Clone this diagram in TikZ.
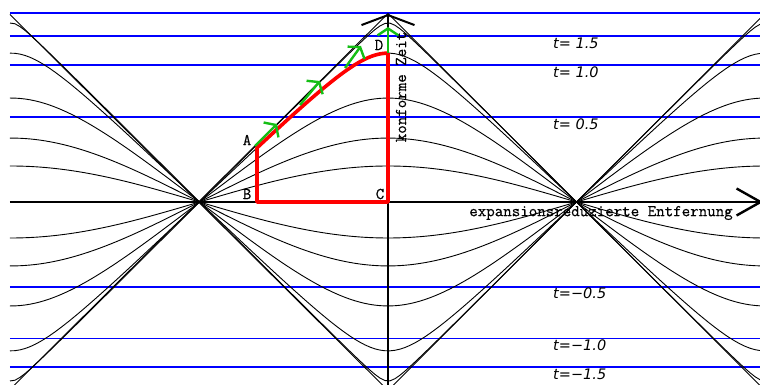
\documentclass[tikz,border=0pt]{standalone}
\usepackage{fontspec}
\newfontfamily\tfont{DejaVu Sans}
\newfontfamily\lbfont[FakeBold=0.5]{Latin Modern Mono}
\usetikzlibrary{arrows.meta}
\definecolor{arrgreen}{RGB}{20,190,20}

\begin{document}
\begin{tikzpicture}[x=1pt,y=1pt,
 crv/.style={black,line width=0.9pt},
 tline/.style={blue,line width=1.8pt},
 ax/.style={black,line width=2.4pt},
 pth/.style={red,line width=3.6pt,line join=round},
 gr/.style={arrgreen,line width=2.4pt,-{Straight Barb[length=7pt,width=21pt]}},
 tl/.style={font=\tfont\itshape\fontsize{14.5}{16}\selectfont,anchor=west,inner sep=0pt},
 lb/.style={font=\lbfont\fontsize{16.5}{18}\selectfont,inner sep=0pt}]
\useasboundingbox (-388,-183) rectangle (372,202);
\clip (-388,-183) rectangle (372,202);
% lines of constant t
\foreach \h in {189,166,137,85,-85,-136.5,-165}
 \draw[tline] (-378,\h) -- (372,\h);
% light paths
\foreach \k in {0.2955,0.508,0.762,0.946,0.9969} {
 \draw[crv] plot[domain=-378:372,samples=151] (\x,{asin(\k*cos(\x/377*180))*2.0944});
 \draw[crv] plot[domain=-378:372,samples=151] (\x,{-asin(\k*cos(\x/377*180))*2.0944});
}
\draw[crv] (-378,-187.5) -- (0,188.5) -- (377,-188.5);
\draw[crv] (-378,187.5) -- (0,-188.5) -- (377,188.5);
% axes
\coordinate (xs) at (-378,0);
\coordinate (xe) at (375,0);
\coordinate (ys) at (0,-190);
\coordinate (ye) at (0,188);
\draw[ax,-{Straight Barb[length=24pt,width=27pt]}] (xs) -- (xe);
\draw[ax,line width=2pt,-{Straight Barb[length=10pt,width=53pt]}] (ys) -- (ye);
% path A-B-C-D
\coordinate (A) at (-131,54.1);
\coordinate (B) at (-131,0);
\coordinate (C) at (0,0);
\coordinate (D) at (0,148.9);
\draw[pth] (D) -- (C) -- (B) -- (A) -- plot[domain=-131:0,samples=40] (\x,{asin(0.946*cos(\x/377*180))*2.0944});
% green arrows
\coordinate (g1a) at (-133,56);
\coordinate (g1) at (-111,78);
\coordinate (g2a) at (-88,97);
\coordinate (g2) at (-68,121);
\coordinate (g3a) at (-43,134);
\coordinate (g3) at (-27,156);
\coordinate (g4) at (0,175);
\draw[gr] (g1a) -- (g1);
\draw[gr] (g2a) -- (g2);
\draw[gr] (g3a) -- (g3);
\draw[gr] (D) -- (g4);
% labels
\node[lb] (lA) at (-141,62) {A};
\node[lb] (lB) at (-141,8) {B};
\node[lb] (lC) at (-8,8) {C};
\node[lb] (lD) at (-9,157) {D};
\node[lb,rotate=90] (zeit) at (13,115) {konforme Zeit};
\node[lb] (entf) at (213,-11) {expansionsreduzierte Entfernung};
\node[tl] (tp15) at (165,159) {t= 1.5};
\node[tl] (tp10) at (165,130) {t= 1.0};
\node[tl] (tp05) at (165,78) {t= 0.5};
\node[tl] (tm05) at (165,-91) {t=−0.5};
\node[tl] (tm10) at (165,-143) {t=−1.0};
\node[tl] (tm15) at (165,-172) {t=−1.5};
\end{tikzpicture}
\end{document}
